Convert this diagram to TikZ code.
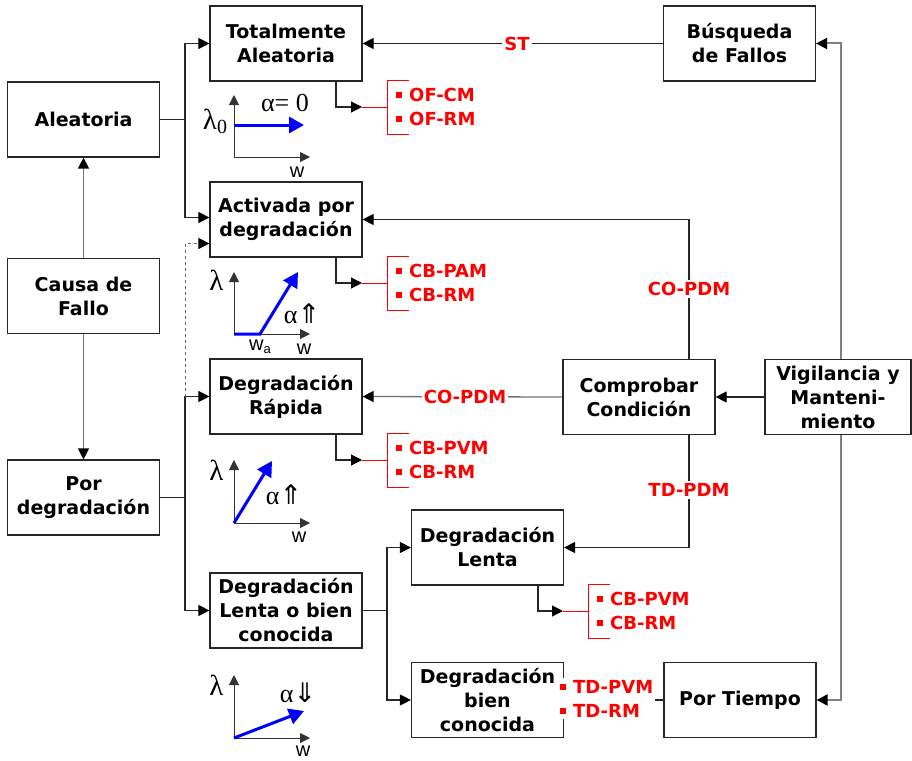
\documentclass[tikz,border=0pt]{standalone}
\usepackage{fontspec}
\setmainfont{DejaVu Sans}
\newfontfamily\axisfont{Liberation Sans}
\newfontfamily\grkfont{Liberation Serif}
\newfontfamily\arrfont{DejaVu Sans}
\usetikzlibrary{arrows.meta,backgrounds}

% square bullet used in the red maintenance lists
\newcommand\bul{\raisebox{3.5pt}{\rule{6pt}{6pt}}\hspace{7pt}}
% double arrows next to alpha
\newcommand\upp{{\arrfont\fontsize{27}{27}\selectfont ⇑}}
\newcommand\dnn{{\arrfont\fontsize{27}{27}\selectfont ⇓}}
% lambda glyph, slightly larger than the other labels
\newcommand\lam{{\fontsize{29}{29}\selectfont λ}}

\tikzset{
  box/.style={draw=black!85, line width=1.2pt, fill=white,
    minimum width=152pt, minimum height=75pt, inner sep=0pt, align=center,
    font=\bfseries\fontsize{19}{24}\selectfont},
  tip/.style={-{Triangle[length=11pt,width=11pt,black]}},
  conn/.style={draw=black!85, line width=1.1pt, tip},
  gconn/.style={draw=black!55, line width=1.3pt, tip},
  plain/.style={draw=black!85, line width=1.1pt},
  redline/.style={draw=red, line width=0.9pt},
  redlbl/.style={text=red, fill=white, inner sep=2pt,
    font=\bfseries\fontsize{18}{24}\selectfont},
  redlist/.style={text=red, inner sep=0pt, align=left, anchor=west,
    font=\bfseries\fontsize{18}{24}\selectfont},
  axis/.style={draw=black!80, line width=1pt,
    -{Triangle[length=10pt,width=10pt]}},
  curve/.style={draw=blue, line width=3pt,
    -{Triangle[length=15pt,width=16pt]}},
  mlbl/.style={inner sep=0pt, font=\grkfont\fontsize{26}{27}\selectfont},
  wlbl/.style={inner sep=0pt, font=\axisfont\fontsize{20}{20}\selectfont},
}

% red bracket with two list items: #1 bracket x, #2 centre y, #3/#4 items
\newcommand\bracketlist[4]{%
  \draw[redline] (#1+22,#2-27) -- (#1,#2-27) -- (#1,#2+27) -- (#1+22,#2+27);
  \node[redlist] at (#1+9,#2) {\bul #3\\\bul #4};%
}

\begin{document}
\begin{tikzpicture}[x=1pt,y=-1pt]
\useasboundingbox (0,0) rectangle (912,760);

% ---------- boxes ----------
\node[box] (tot)   at (286,43.5)   {Totalmente\\Aleatoria};
\node[box] (busq)  at (739.5,43.5) {Búsqueda\\de Fallos};
\node[box] (alea)  at (83.5,119.5) {Aleatoria};
\node[box] (causa) at (83.5,296)   {Causa de\\Fallo};
\node[box] (pdeg)  at (83.5,497.5) {Por\\degradación};
\node[box] (activ) at (286,219.5)  {Activada por\\degradación};
\node[box] (rap)   at (286,396.5)  {Degradación\\Rápida};
\node[box] (lob)   at (286,610.5)  {Degradación\\Lenta o bien\\conocida};
\node[box] (lenta) at (487.5,547.5){Degradación\\Lenta};
\node[box] (bienc) at (487.5,700)  {Degradación\\bien\\conocida};
\node[box] (comp)  at (639,397)    {Comprobar\\Condición};
\node[box, minimum width=146pt] (vig) at (838,397) {Vigilancia y\\Manteni-\\miento};
\node[box] (ptiem) at (740,700)    {Por Tiempo};

% ---------- junction points ----------
\coordinate (ja) at (185,119.5);
\coordinate (jd) at (185,497.5);
\coordinate (jr) at (185,396.5);
\coordinate (jl) at (387,610.5);
\coordinate (vt) at (840.5,43.5);
\coordinate (vb) at (840.5,700);

% monitoring line running behind "Vigilancia y Mantenimiento"
\begin{pgfonlayer}{background}
  \draw[draw=black!50, line width=2pt,
        {Triangle[length=11pt,width=11pt,black]}-{Triangle[length=11pt,width=11pt,black]}]
        (busq.east) -- (vt) -- (vb) -- (ptiem.east);
\end{pgfonlayer}

% ---------- cause of failure ----------
\draw[gconn] (causa.north) -- (alea.south);
\draw[gconn] (causa.south) -- (pdeg.north);

\draw[plain] (alea.east) -- (ja);
\draw[conn] (ja) |- ([yshift=2pt]activ.west);
\draw[conn] (ja) |- (tot.west);

\draw[plain] (pdeg.east) -- (jd);
\draw[conn] (jd) |- (rap.west);
\draw[conn] (jd) |- (lob.west);
\draw[draw=black!60, line width=0.8pt, dashed,
      -{Triangle[length=11pt,width=11pt,black]}] (jr) |- ([yshift=-24pt]activ.west);

\draw[plain] (lob.east) -- (jl);
\draw[conn] (jl) |- (lenta.west);
\draw[conn] (jl) |- (bienc.west);

% ---------- maintenance policies ----------
\draw[conn] (busq.west) -- (tot.east);
\node[redlbl] at (517,43.5) {ST};

\draw[conn] (vig.west) -- (comp.east);
\draw[gconn] (comp.west) -- (rap.east);
\node[redlbl] at (465,397) {CO-PDM};

\draw[conn] ([xshift=50pt]comp.north) |- (activ.east);
\node[redlbl] at (689,289) {CO-PDM};

\draw[conn] ([xshift=50pt]comp.south) |- (lenta.east);
\node[redlbl] at (689,490) {TD-PDM};

\draw[plain] (ptiem.west) -- (bienc.east);
\node[redlist, fill=white, inner sep=1.5pt] at (558.5,698.5) {\bul TD-PVM\\\bul TD-RM};

% ---------- outputs to the maintenance lists ----------
\coordinate (o1) at (362,107);
\coordinate (b1) at (387,107);
\draw[conn] ([xshift=50pt]tot.south) |- (o1);
\draw[redline] (o1) -- (b1);
\bracketlist{387}{107}{OF-CM}{OF-RM}

\coordinate (o2) at (362,283);
\coordinate (b2) at (387,283);
\draw[conn] ([xshift=50pt]activ.south) |- (o2);
\draw[redline] (o2) -- (b2);
\bracketlist{387}{283}{CB-PAM}{CB-RM}

\coordinate (o3) at (362,460);
\coordinate (b3) at (387,460);
\draw[conn] ([xshift=50pt]rap.south) |- (o3);
\draw[redline] (o3) -- (b3);
\bracketlist{387}{460}{CB-PVM}{CB-RM}

\coordinate (o4) at (563,611);
\coordinate (b4) at (588,611);
\draw[conn] ([xshift=50.5pt]lenta.south) |- (o4);
\draw[redline] (o4) -- (b4);
\bracketlist{588}{611}{CB-PVM}{CB-RM}

% ---------- failure-rate sketches ----------
% random: constant rate
\draw[axis] (234,157) -- (234,95);
\draw[axis] (234,157) -- (310,157);
\draw[curve] (234,125) -- (304,125);
\node[mlbl] at (215,121) {\lam\raisebox{-4pt}{\fontsize{20}{20}\selectfont 0}};
\node[mlbl] at (285,103) {α= 0};
\node[wlbl] at (297,172) {w};

% activated by degradation
\draw[axis] (234,334) -- (234,272);
\draw[axis] (234,334) -- (310,334);
\draw[curve] (234,334) -- (260,334) -- (298,272);
\node[mlbl] at (216.5,280) {\lam};
\node[mlbl] at (302,314) {α\upp};
\node[wlbl] at (260,347) {w\raisebox{-3pt}{\fontsize{13}{13}\selectfont a}};
\node[wlbl] at (304,349) {w};

% fast degradation
\draw[axis] (234,523) -- (234,460);
\draw[axis] (234,523) -- (310,523);
\draw[curve] (234,523) -- (272,461);
\node[mlbl] at (216.5,470) {\lam};
\node[mlbl] at (284,495) {α\upp};
\node[wlbl] at (299,537) {w};

% slow degradation
\draw[axis] (234,738) -- (234,675);
\draw[axis] (234,738) -- (310,738);
\draw[curve] (234,738) -- (304,711);
\node[mlbl] at (216.5,685) {\lam};
\node[mlbl] at (298,693) {α\dnn};
\node[wlbl] at (303,751) {w};

\end{tikzpicture}
\end{document}
